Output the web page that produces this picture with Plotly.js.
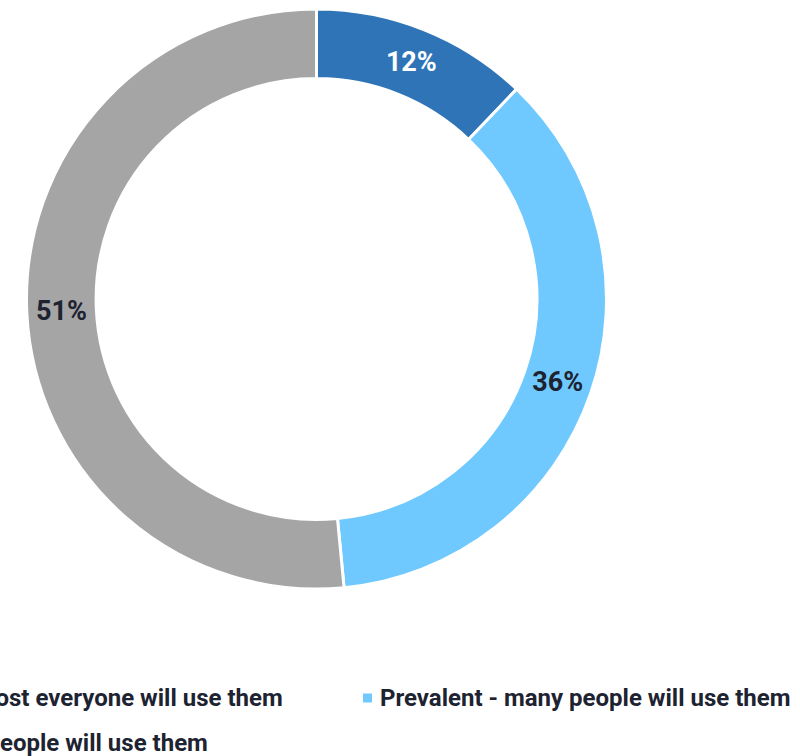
<!DOCTYPE html>
<html>
<head>
<meta charset="utf-8">
<script src="https://cdn.plot.ly/plotly-3.0.1.min.js"></script>
<style>html,body{margin:0;padding:0;background:#fff;}#chart{width:800px;height:756px;}</style>
</head>
<body>
<div id="chart"></div>
<script>
const categories = [
  "Ubiquitous - almost everyone will use them",
  "Prevalent - many people will use them",
  "Niche - few people will use them"
];
const shares = [12, 36, 51];
const colors = ["#2E74B7", "#70C9FE", "#A5A5A5"];
const labelColors = ["#ffffff", "#1d2330", "#1d2330"];

const W = 800, H = 756;
const textDark = "#1d2330";

const trace = {
  type: "pie",
  labels: categories,
  values: shares,
  sort: false,
  direction: "clockwise",
  rotation: 0,
  hole: 0.76,
  texttemplate: "%{value}%",
  textposition: "inside",
  insidetextorientation: "horizontal",
  textfont: {family: "Roboto", size: 27, color: labelColors, weight: "bold"},
  marker: {colors: colors, line: {color: "#ffffff", width: 3}},
  domain: {x: [26.5/W, 606.5/W], y: [1 - 589/H, 1 - 9/H]},
  showlegend: false,
  hoverinfo: "label+percent"
};

// Legend laid out like the reference (wider than the page, so it runs off the left edge)
const legendSlots = [
  {x: 285, anchor: "right", y: 698},
  {x: 378, anchor: "left",  y: 698},
  {x: 210, anchor: "right", y: 743}
];
const legendFontSize = 24;

const annotations = categories.map((c, i) => ({
  xref: "paper", yref: "paper",
  x: legendSlots[i].x / W, y: 1 - legendSlots[i].y / H,
  xanchor: legendSlots[i].anchor, yanchor: "middle",
  text: c, showarrow: false,
  font: {family: "Roboto", size: legendFontSize, color: textDark, weight: "bold"}
}));

// marker squares: to the left of each entry's text
const approxCharW = 11.05;
const shapes = categories.map((c, i) => {
  const s = legendSlots[i];
  const textStart = s.anchor === "left" ? s.x : s.x - c.length * approxCharW;
  const x1 = textStart - 6, x0 = x1 - 9;
  return {
    type: "rect", xref: "paper", yref: "paper",
    x0: x0 / W, x1: x1 / W, y0: 1 - (s.y + 4.5) / H, y1: 1 - (s.y - 4.5) / H,
    fillcolor: colors[i], line: {width: 0}
  };
});

const layout = {
  width: W, height: H,
  margin: {l: 0, r: 0, t: 0, b: 0, autoexpand: false},
  paper_bgcolor: "#ffffff",
  showlegend: false,
  annotations: annotations,
  shapes: shapes
};

Plotly.newPlot("chart", [trace], layout, {displayModeBar: false, staticPlot: true});
</script>
</body>
</html>
